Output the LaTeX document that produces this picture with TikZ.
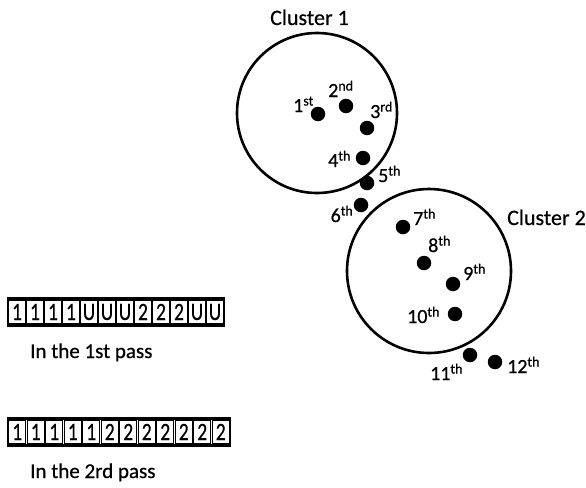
\documentclass[tikz,border=0pt]{standalone}
\usepackage{fontspec}
\setmainfont{Carlito}[FakeBold=0.6]
\newcommand\ordn[2]{#1\raisebox{6.5pt}{\fontsize{14}{14}\selectfont #2}}
\newcommand\narrow[1]{\scalebox{0.78}[1]{#1}}
\tikzset{
  ring/.style={circle, draw, line width=2.6pt, inner sep=0pt},
  pt/.style={circle, fill=black, inner sep=0pt, minimum size=14.5pt},
  ord/.style={font=\fontsize{20}{24}\selectfont, inner sep=0pt},
  clab/.style={font=\fontsize{22}{26}\selectfont, inner sep=0pt, anchor=base west},
  passlab/.style={font=\fontsize{21}{25}\selectfont, inner sep=0pt, anchor=base west},
  frame/.style={draw, line width=2.6pt, inner sep=0pt, minimum height=27pt},
  cellbox/.style={draw, line width=1.2pt, inner sep=0pt, minimum height=23pt,
                  font=\fontsize{25}{28}\selectfont},
}
\begin{document}
\begin{tikzpicture}[x=1pt,y=-1pt]
\useasboundingbox (0,0) rectangle (586,487);

% the two clusters
\node[ring, minimum size=160pt] (c1) at (317,113) {};
\node[ring, minimum size=164pt] (c2) at (429,271) {};
\node[clab] (c1lab) at (270,25) {Cluster 1};
\node[clab] (c2lab) at (507,225) {Cluster 2};

% data points
\node[pt] (d1)  at (318,114) {};
\node[pt] (d2)  at (346,106) {};
\node[pt] (d3)  at (367,128) {};
\node[pt] (d4)  at (363,158) {};
\node[pt] (d5)  at (367,183) {};
\node[pt] (d6)  at (361,205) {};
\node[pt] (d7)  at (403,227) {};
\node[pt] (d8)  at (424,263) {};
\node[pt] (d9)  at (453,284) {};
\node[pt] (d10) at (455,314) {};
\node[pt] (d11) at (470,355) {};
\node[pt] (d12) at (495,362) {};

% order labels
\node[ord, anchor=base west] (o1)  at (293,112) {\ordn{1}{st}};
\node[ord, anchor=base west] (o2)  at (328,97)  {\ordn{2}{nd}};
\node[ord, anchor=base west] (o3)  at (370,118) {\ordn{3}{rd}};
\node[ord, anchor=base west] (o4)  at (328,167) {\ordn{4}{th}};
\node[ord, anchor=base west] (o5)  at (378,182) {\ordn{5}{th}};
\node[ord, anchor=base east] (o6)  at (353,222) {\ordn{6}{th}};
\node[ord, anchor=base west] (o7)  at (413,225) {\ordn{7}{th}};
\node[ord, anchor=base west] (o8)  at (428,252) {\ordn{8}{th}};
\node[ord, anchor=base west] (o9)  at (463,280) {\ordn{9}{th}};
\node[ord, anchor=base west] (o10) at (407,323) {\ordn{10}{th}};
\node[ord, anchor=base west] (o11) at (430,380) {\ordn{11}{th}};
\node[ord, anchor=base west] (o12) at (507,373) {\ordn{12}{th}};

% label arrays after each pass
\node[frame, minimum width=216pt] (row1) at (116,312) {};
\foreach \ch [count=\i] in {1,1,1,1,U,U,U,2,2,2,U,U}
  \node[cellbox, minimum width=16.5pt] (ra\i) at ({8+(\i-0.5)*18},312) {\narrow{\ch}};
\node[passlab] (p1) at (30,358) {In the 1st pass};

\node[frame, minimum width=222pt] (row2) at (119,432) {};
\foreach \ch [count=\i] in {1,1,1,1,1,2,2,2,2,2,2,2}
  \node[cellbox, minimum width=17pt] (rb\i) at ({8+(\i-0.5)*18.5},432) {\narrow{\ch}};
\node[passlab] (p2) at (30,478) {In the 2rd pass};
\end{tikzpicture}
\end{document}
